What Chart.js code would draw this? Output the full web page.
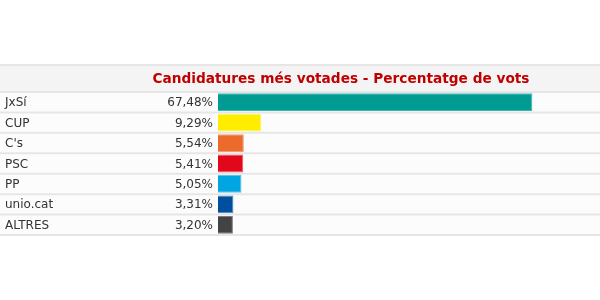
<!DOCTYPE html>
<html>
<head>
<meta charset="utf-8">
<script src="https://cdn.jsdelivr.net/npm/chart.js@4/dist/chart.umd.min.js"></script>
<style>
  body { margin: 0; background: #fff; }
</style>
</head>
<body>
<canvas id="myChart" width="600" height="300"></canvas>
<script>
var parties = ['JxSí', 'CUP', "C's", 'PSC', 'PP', 'unio.cat', 'ALTRES'];
var votes = [67.48, 9.29, 5.54, 5.41, 5.05, 3.31, 3.20];
var colors = ['#009c94', '#ffed00', '#ec6a2c', '#e2071b', '#00a6e2', '#004f9e', '#434343'];
var borders = ['#40b5af', '#fff266', '#f29a70', '#ec5a66', '#59c3ea', '#4d83bb', '#7b7b7b'];
var title = 'Candidatures més votades - Percentatge de vots';

function fmt(v) {
    return v.toFixed(2).replace('.', ',') + '%';
}

var tablePlugin = {
    id: 'tablePlugin',
    beforeDraw: function (chart) {
        var ctx = chart.ctx;
        var area = chart.chartArea;
        var yScale = chart.scales.y;
        var n = parties.length;
        var rowH = (area.bottom - area.top) / n;
        ctx.save();
        // header band
        ctx.fillStyle = '#f4f4f4';
        ctx.fillRect(0, 65, 600, area.top - 65);
        // rows background
        ctx.fillStyle = '#fcfcfc';
        ctx.fillRect(0, area.top, 600, area.bottom - area.top);
        // lines
        ctx.strokeStyle = '#e6e6e6';
        ctx.lineWidth = 2;
        ctx.beginPath();
        ctx.moveTo(0, 65);
        ctx.lineTo(600, 65);
        ctx.moveTo(0, area.top);
        ctx.lineTo(600, area.top);
        for (var i = 0; i < n; i++) {
            var yb = yScale.getPixelForValue(i) + rowH / 2;
            ctx.moveTo(0, yb);
            ctx.lineTo(600, yb);
        }
        ctx.stroke();
        // title
        ctx.fillStyle = '#c00000';
        ctx.font = 'bold 13.7px "DejaVu Sans"';
        ctx.textAlign = 'center';
        ctx.textBaseline = 'middle';
        ctx.fillText(title, 341, 79);
        // labels
        ctx.fillStyle = '#333';
        ctx.font = '12px "DejaVu Sans"';
        for (var j = 0; j < n; j++) {
            var y = yScale.getPixelForValue(j);
            ctx.textAlign = 'left';
            ctx.fillText(parties[j], 5, y + 1);
            ctx.textAlign = 'right';
            ctx.fillText(fmt(votes[j]), 213, y + 1);
        }
        ctx.restore();
    }
};

var ctx = document.getElementById('myChart').getContext('2d');
var myChart = new Chart(ctx, {
    type: 'bar',
    data: {
        labels: parties,
        datasets: [{
            data: votes,
            backgroundColor: colors,
            borderColor: borders,
            borderWidth: 1,
            barPercentage: 0.87,
            categoryPercentage: 1
        }]
    },
    options: {
        indexAxis: 'y',
        responsive: false,
        animation: false,
        layout: {
            padding: { left: 218, right: 0, top: 92, bottom: 65 }
        },
        scales: {
            x: { display: false, min: 0, max: 82 },
            y: { display: false }
        },
        plugins: {
            legend: { display: false },
            tooltip: { enabled: false }
        }
    },
    plugins: [tablePlugin]
});
</script>
</body>
</html>
